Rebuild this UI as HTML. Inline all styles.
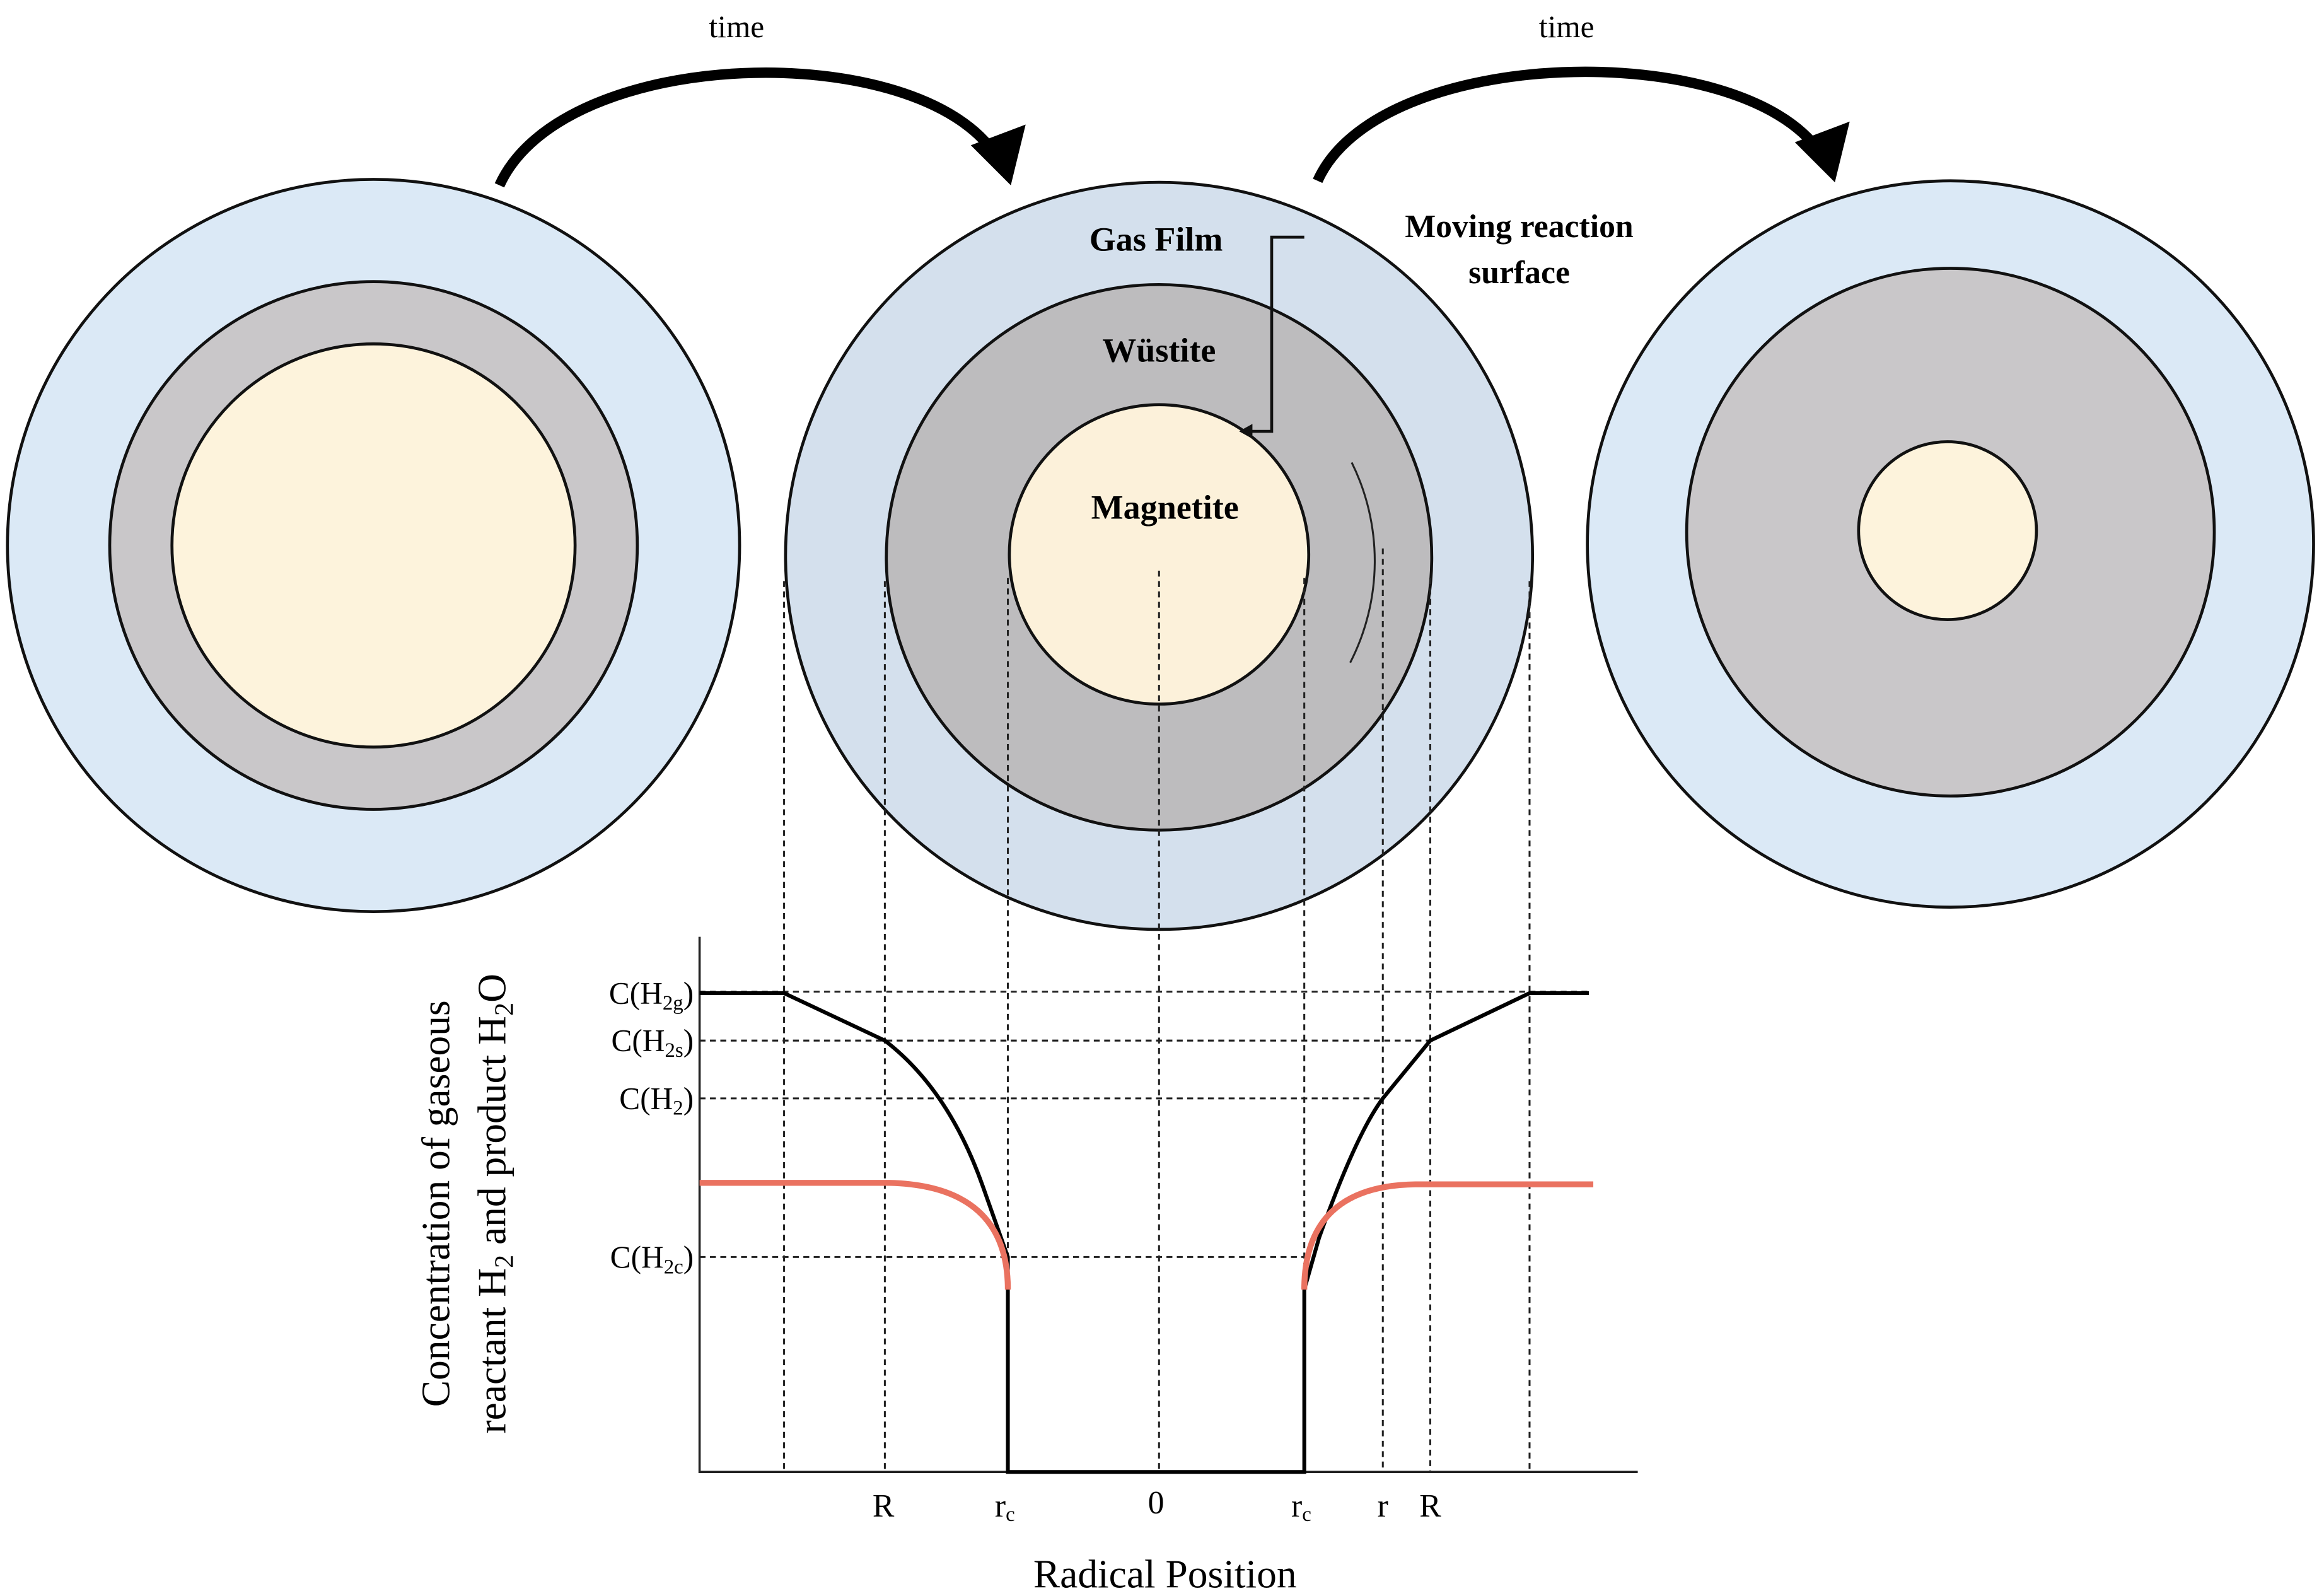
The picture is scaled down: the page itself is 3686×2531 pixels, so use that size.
<!DOCTYPE html>
<html><head><meta charset="utf-8"><style>html,body{margin:0;padding:0;background:#fff}svg{display:block}</style></head>
<body>
<svg width="3686" height="2531" viewBox="0 0 1568 1076.7" xmlns="http://www.w3.org/2000/svg" font-family="Liberation Serif, serif">
<rect width="1568" height="1077" fill="#fff"/>
<circle cx="252" cy="368" r="247" fill="#dbe9f6" stroke="#111" stroke-width="2"/>
<circle cx="252" cy="368" r="178" fill="#c9c7c9" stroke="#111" stroke-width="2"/>
<circle cx="252" cy="368" r="136" fill="#fdf3dc" stroke="#111" stroke-width="2"/>
<circle cx="782" cy="375" r="252" fill="#d4e0ed" stroke="#111" stroke-width="2"/>
<circle cx="782" cy="376" r="184" fill="#bdbcbe" stroke="#111" stroke-width="2"/>
<circle cx="782" cy="374" r="101" fill="#fcf1da" stroke="#111" stroke-width="2"/>
<path d="M 912 312 A 150 150 0 0 1 911 447" fill="none" stroke="#222" stroke-width="1.3"/>
<circle cx="1316" cy="367" r="245" fill="#dbe9f6" stroke="#111" stroke-width="2"/>
<circle cx="1316" cy="359" r="178" fill="#c9c7c9" stroke="#111" stroke-width="2"/>
<circle cx="1314" cy="358" r="60" fill="#fdf3dc" stroke="#111" stroke-width="2"/>
<path d="M337 125 C 380 30, 620 25, 672 105" fill="none" stroke="#000" stroke-width="7"/>
<polygon points="655,98 692,84 682,125" fill="#000"/>
<path d="M889 122 C 930 30, 1175 25, 1228 103" fill="none" stroke="#000" stroke-width="7"/>
<polygon points="1211,96 1248,82 1238,123" fill="#000"/>
<text x="497" y="25" font-size="21" text-anchor="middle">time</text>
<text x="1057" y="25" font-size="21" text-anchor="middle">time</text>
<text x="780" y="169" font-size="23" font-weight="bold" text-anchor="middle">Gas Film</text>
<text x="782" y="244" font-size="23" font-weight="bold" text-anchor="middle">Wüstite</text>
<text x="786" y="350" font-size="23" font-weight="bold" text-anchor="middle">Magnetite</text>
<text x="1025" y="160" font-size="22" font-weight="bold" text-anchor="middle">Moving reaction</text>
<text x="1025" y="191" font-size="22" font-weight="bold" text-anchor="middle">surface</text>
<path d="M880 160 L858 160 L858 291 L842 291" fill="none" stroke="#111" stroke-width="2"/>
<polygon points="836,291 845,286 845,296" fill="#111"/>
<g stroke="#222" stroke-width="1.3" stroke-dasharray="4,3">
<line x1="529" y1="392" x2="529" y2="993"/>
<line x1="597" y1="392" x2="597" y2="993"/>
<line x1="680" y1="390" x2="680" y2="993"/>
<line x1="782" y1="385" x2="782" y2="993"/>
<line x1="880" y1="390" x2="880" y2="993"/>
<line x1="933" y1="370" x2="933" y2="993"/>
<line x1="965" y1="390" x2="965" y2="993"/>
<line x1="1032" y1="392" x2="1032" y2="993"/>
<line x1="472" y1="669" x2="1072" y2="669"/>
<line x1="472" y1="702" x2="965" y2="702"/>
<line x1="472" y1="741" x2="933" y2="741"/>
<line x1="472" y1="848" x2="880" y2="848"/>
</g>
<path d="M472 632 L472 993 L1105 993" fill="none" stroke="#222" stroke-width="1.5"/>
<path d="M472 670 L529 670 L597 702 Q 640 735 663 800 L680 848 L680 993 L880 993 L880 870 L890 835 Q 915 765 933 741 L965 702 L1032 670 L1072 670" fill="none" stroke="#000" stroke-width="2.6"/>
<path d="M472 798 L600 798 Q 680 800 680 870" fill="none" stroke="#ea7260" stroke-width="4"/>
<path d="M880 870 Q 880 800 955 799 L1075 799" fill="none" stroke="#ea7260" stroke-width="4"/>
<g font-size="21" text-anchor="end">
<text x="468" y="677">C(H<tspan font-size="14" dy="4">2g</tspan><tspan dy="-4">)</tspan></text>
<text x="468" y="709">C(H<tspan font-size="14" dy="4">2s</tspan><tspan dy="-4">)</tspan></text>
<text x="468" y="748">C(H<tspan font-size="14" dy="4">2</tspan><tspan dy="-4">)</tspan></text>
<text x="468" y="855">C(H<tspan font-size="14" dy="4">2c</tspan><tspan dy="-4">)</tspan></text>
</g>
<g font-size="22" text-anchor="middle">
<text x="596" y="1023">R</text>
<text x="678" y="1023">r<tspan font-size="14" dy="3">c</tspan></text>
<text x="780" y="1021">0</text>
<text x="878" y="1023">r<tspan font-size="14" dy="3">c</tspan></text>
<text x="933" y="1023">r</text>
<text x="965" y="1023">R</text>
</g>
<text x="786" y="1071" font-size="27" text-anchor="middle">Radical Position</text>
<g transform="translate(303,812) rotate(-90)">
<text x="0" y="0" font-size="27" text-anchor="middle">Concentration of gaseous</text>
<text x="0" y="38" font-size="27" text-anchor="middle">reactant H<tspan font-size="18" dy="5">2</tspan><tspan dy="-5"> and product H</tspan><tspan font-size="18" dy="5">2</tspan><tspan dy="-5">O</tspan></text>
</g>
</svg>
</body></html>
